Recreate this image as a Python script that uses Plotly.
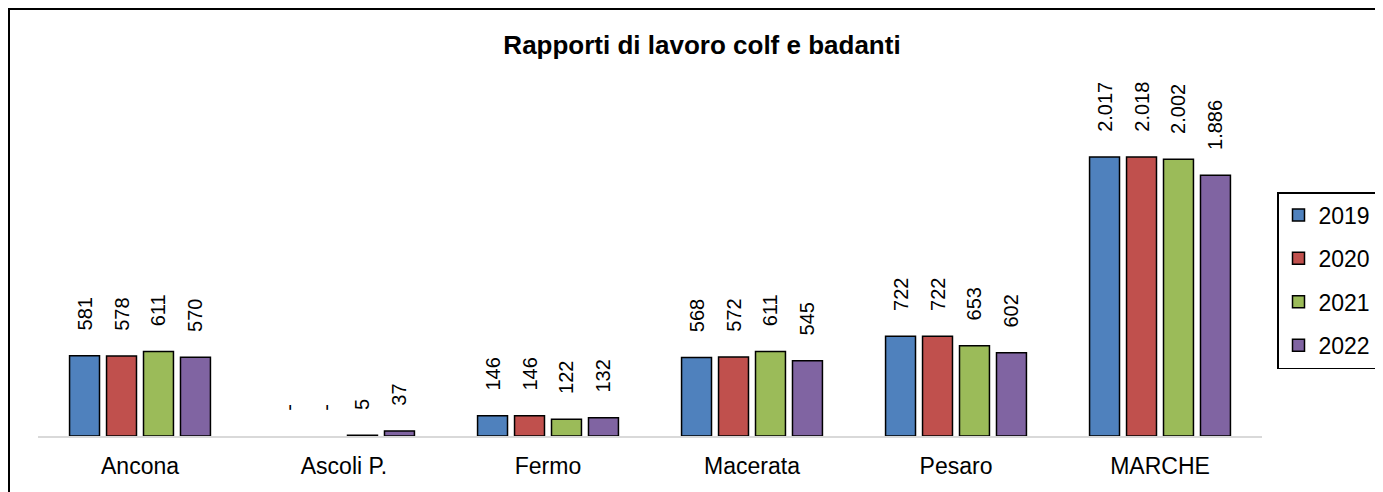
import plotly.graph_objects as go

categories = ["Ancona", "Ascoli P.", "Fermo", "Macerata", "Pesaro", "MARCHE"]
years = ["2019", "2020", "2021", "2022"]
v2019 = [581, 0, 146, 568, 722, 2017]
v2020 = [578, 0, 146, 572, 722, 2018]
v2021 = [611, 5, 122, 611, 653, 2002]
v2022 = [570, 37, 132, 545, 602, 1886]
series = [v2019, v2020, v2021, v2022]
colors = ["#4F81BD", "#C0504D", "#9BBB59", "#8064A2"]

PAD = "<span style='color:rgba(0,0,0,0)'>00</span>"
FONT = "Arial, Liberation Sans"


def fmt(v):
    if v == 0:
        return "-"
    return f"{v:,}".replace(",", ".")


fig = go.Figure()
for i, (yr, vals) in enumerate(zip(years, series)):
    fig.add_trace(go.Bar(
        x=categories, y=vals, name=yr,
        marker=dict(color=colors[i],
                    line=dict(color="#000000", width=[0 if v == 0 else 1.5 for v in vals])),
        text=[PAD + fmt(v) for v in vals],
        textposition="outside", textangle=-90,
        textfont=dict(family=FONT, size=20, color="#000000"),
        cliponaxis=False,
        legendgroup=yr,
    ))

# figure is offset by the page's 8px body margin
W, H = 1375, 484
L, R, T, B = 30, 121, 52, 56
pw, ph = W - L - R, H - T - B


def px(x):
    return (x - L) / pw


def py(y):
    return (H - B - y) / ph


fig.update_layout(
    width=W, height=H,
    margin=dict(l=L, r=R, t=T, b=B),
    paper_bgcolor="white", plot_bgcolor="white",
    barmode="group", bargap=0.275, bargroupgap=0.19,
    uniformtext=dict(minsize=20, mode="show"),
    title=dict(text="<b>Rapporti di lavoro colf e badanti</b>", x=694 / W, xanchor="center",
               y=1 - 37 / H, yanchor="middle",
               font=dict(family=FONT, size=26, color="#000000")),
    font=dict(family=FONT, color="#000000"),
    showlegend=True,
    legend=dict(xref="container", yref="container",
                x=1269 / W, xanchor="left", y=1 - 184 / H, yanchor="top",
                bordercolor="#000000", borderwidth=1.5, bgcolor="white",
                font=dict(size=23, family=FONT),
                tracegroupgap=10.5, traceorder="grouped", itemwidth=30),
    xaxis=dict(showline=True, linecolor="#D9D9D9", linewidth=1.5, ticks="",
               ticklabelstandoff=9,
               tickfont=dict(size=23, family=FONT), showgrid=False),
    yaxis=dict(visible=False, range=[0, 2719], showgrid=False, zeroline=False),
    shapes=[dict(type="rect", xref="paper", yref="paper",
                 x0=px(1), x1=px(1400), y0=py(510), y1=py(1),
                 line=dict(color="#000000", width=2), fillcolor="rgba(0,0,0,0)", layer="below")],
)

fig.write_html("out.html")
